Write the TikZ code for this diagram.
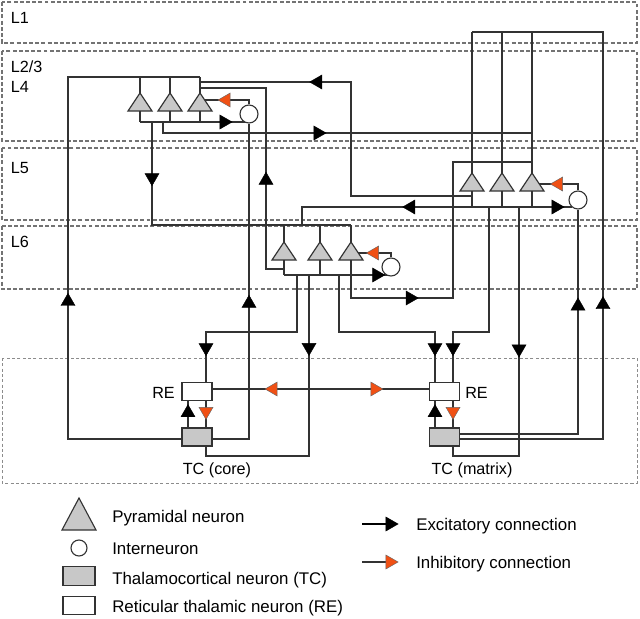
\documentclass[tikz,border=0pt]{standalone}
\usepackage{fontspec}
\setmainfont{Liberation Sans}
\usetikzlibrary{shapes.geometric}

\definecolor{inhcol}{RGB}{240,80,20}
\definecolor{cellgray}{RGB}{200,200,200}

\tikzset{
  wire/.style={draw=black!80, line width=0.8pt},
  layer/.style={draw=black!55, line width=1pt, dash pattern=on 2.8pt off 1.6pt},
  nucleus/.style={draw=black!45, line width=0.7pt, dash pattern=on 2.2pt off 1.6pt},
  arrowhd/.style={regular polygon, regular polygon sides=3, inner sep=0pt,
    minimum size=11.5pt, shape border rotate=#1},
  exc/.style={arrowhd=#1, fill=black, draw=black, line width=0.3pt},
  inh/.style={arrowhd=#1, fill=inhcol, draw=black!60, line width=0.3pt},
  inter/.style={circle, draw=black!80, fill=white, line width=0.8pt,
    minimum size=0.45cm, inner sep=0pt},
  tcbox/.style={rectangle, draw=black!80, fill=cellgray, line width=0.8pt,
    minimum width=0.75cm, minimum height=0.45cm, inner sep=0pt},
  rebox/.style={tcbox, fill=white, minimum height=0.43cm},
  lab/.style={font=\fontsize{11.5}{13}\selectfont, inner sep=0pt},
  leg/.style={font=\fontsize{12}{14}\selectfont, inner sep=0pt, anchor=base west},
  pyr/.pic={
    \draw[wire, fill=cellgray] (-12,9) -- (12,9) -- (0,-9) -- cycle;
    \coordinate (-top) at (0,-9);
    \coordinate (-bot) at (0,9);
  }
}

\begin{document}
\begin{tikzpicture}[x=0.025cm, y=-0.025cm]
\useasboundingbox (0,0) rectangle (640,619);

% layers
\draw[layer] (2,2) rectangle (637,43);
\draw[layer] (2,51) rectangle (637,141);
\draw[layer] (2,148) rectangle (637,220);
\draw[layer] (2,226) rectangle (637,289);
\draw[nucleus] (2,358) rectangle (637,483);
\node[lab, anchor=base west] (l1) at (10.5,23) {L1};
\node[lab, anchor=base west] (l23) at (10.5,72) {L2/3};
\node[lab, anchor=base west] (l4) at (10.5,92) {L4};
\node[lab, anchor=base west] (l5) at (10.5,173) {L5};
\node[lab, anchor=base west] (l6) at (10.5,247) {L6};

% neurons
\pic (p23a) at (140,102) {pyr};
\pic (p23b) at (170,102) {pyr};
\pic (p23c) at (200,102) {pyr};
\node[inter] (i23) at (249,114) {};
\pic (p5a) at (472,182) {pyr};
\pic (p5b) at (502,182) {pyr};
\pic (p5c) at (532,182) {pyr};
\node[inter] (i5) at (578,200) {};
\pic (p6a) at (284,251) {pyr};
\pic (p6b) at (320,251) {pyr};
\pic (p6c) at (351,251) {pyr};
\node[inter] (i6) at (391,267) {};
\node[rebox] (rec) at (197,391.5) {};
\node[tcbox] (tcc) at (197,437) {};
\node[rebox] (rem) at (444.5,391.5) {};
\node[tcbox] (tcm) at (444.5,437) {};
\node[lab, anchor=base east] (rel1) at (175,398) {RE};
\node[lab, anchor=base] (tcl1) at (217,474) {TC (core)};
\node[lab, anchor=base west] (rel2) at (465,398) {RE};
\node[lab, anchor=base] (tcl2) at (472,474) {TC (matrix)};

% stems
\foreach \nrn/\x in {p23a/140,p23b/170,p23c/200}{
  \draw[wire] (\x,77) -- (\nrn-top);
  \draw[wire] (\nrn-bot) -- (\x,122);
}
\foreach \nrn/\x in {p5a/472,p5b/502,p5c/532}{
  \draw[wire] (\x,32) -- (\nrn-top);
  \draw[wire] (\nrn-bot) -- (\x,207);
}
\foreach \nrn/\x in {p6a/284,p6b/320,p6c/351}{
  \draw[wire] (\x,225) -- (\nrn-top);
  \draw[wire] (\nrn-bot) -- (\x,275);
}

% L2/3 - L4
\draw[wire] (tcc.west |- 0,439) -- (68,439) -- node[exc=0, pos=.38] (a1) {} (68,77) -- (200,77);
\draw[wire] (tcc.east |- 0,439) -- (249,439) -- node[exc=0, pos=.43] (a2) {} (i23.south);
\draw[wire] (140,122) -- node[exc=-90, pos=.8] (a3) {} (245,122);
\draw[wire] (i23.north) -- (249,100) -- node[inh=90, pos=.52] (b1) {} (205,100);
\draw[wire] (163,122) -- (163,133) -- node[exc=-90, pos=.42] (a4) {} (532,133);
\draw[wire] (152,122) -- node[exc=180, pos=.54] (a5) {} (152,225) -- (351,225);
\draw[wire] (p5a-bot |- 0,196) -- (351,196) -- (351,82) -- node[exc=90, pos=.22] (a6) {} (200,82);
\draw[wire] (284,269) -- (266,269) -- node[exc=0, pos=.49] (a7) {} (266,88) -- (200,88);

% L5
\draw[wire] (tcm.east |- 0,439) -- (603,439) -- node[exc=0, pos=.33] (a8) {} (603,32) -- (472,32);
\draw[wire] (tcm.east |- 0,434) -- (578,434) -- node[exc=0, pos=.57] (a9) {} (i5.south);
\draw[wire] (p6c-bot) -- (351,298) -- node[exc=-90, pos=.58] (a10) {} (453,298) -- (453,162) -- (532,162);
\draw[wire] (472,207) -- node[exc=-90, pos=.84] (a11) {} (572,207);
\draw[wire] (472,207) -- node[exc=90, pos=.36] (a12) {} (302,207) -- (302,225);
\draw[wire] (i5.north) -- (578,184) -- node[inh=90, pos=.5] (b2) {} (539,184);
\draw[wire] (489,207) -- (489,332) -- (453,332) -- node[exc=180, pos=.31] (a13) {} (rem.north -| 453,0);
\draw[wire] (519,207) -- node[exc=180, pos=.57] (a14) {} (519,456) -- (453,456) -- (tcm.south -| 453,0);

% L6
\draw[wire] (284,275) -- node[exc=-90, pos=.9] (a15) {} (387,275);
\draw[wire] (i6.north) -- (391,253) -- node[inh=90, pos=.5] (b3) {} (358,253);
\draw[wire] (297,275) -- (297,332) -- (206,332) -- node[exc=180, pos=.31] (a16) {} (rec.north -| 206,0);
\draw[wire] (309,275) -- node[exc=180, pos=.4] (a17) {} (309,456) -- (206,456) -- (tcc.south -| 206,0);
\draw[wire] (339,275) -- (339,332) -- (435,332) -- node[exc=180, pos=.31] (a18) {} (rem.north -| 435,0);

% thalamus
\draw[wire] (rec.east |- 0,389) -- node[inh=90, pos=.28] (b4) {} node[inh=-90, pos=.75] (b5) {} (rem.west |- 0,389);
\draw[wire] (tcc.north -| 188,0) -- node[exc=0, pos=.55] (a19) {} (rec.south -| 188,0);
\draw[wire] (rec.south -| 206,0) -- node[inh=180, pos=.4] (b6) {} (tcc.north -| 206,0);
\draw[wire] (tcm.north -| 435,0) -- node[exc=0, pos=.55] (a20) {} (rem.south -| 435,0);
\draw[wire] (rem.south -| 453,0) -- node[inh=180, pos=.4] (b7) {} (tcm.north -| 453,0);

% legend
\draw[wire, fill=cellgray] (62,530) -- (96,530) -- (79,498) -- cycle;
\node[inter, minimum size=0.4cm] (lgi) at (79,548) {};
\node[tcbox, minimum width=0.8cm, minimum height=0.48cm] (lgt) at (79,576) {};
\node[rebox, minimum width=0.8cm] (lgr) at (79,605.5) {};
\node[leg] (lg1) at (112,522) {Pyramidal neuron};
\node[leg] (lg2) at (112,554) {Interneuron};
\node[leg] (lg3) at (112,584) {Thalamocortical neuron (TC)};
\node[leg] (lg4) at (112,612) {Reticular thalamic neuron (RE)};
\draw[wire, draw=black] (362,524) -- (390,524) node[exc=-90, pos=1] (lga) {};
\draw[wire] (362,562) -- (390,562) node[inh=-90, pos=1] (lgb) {};
\node[leg] (lg5) at (416,530) {Excitatory connection};
\node[leg] (lg6) at (416,568) {Inhibitory connection};
\end{tikzpicture}
\end{document}
